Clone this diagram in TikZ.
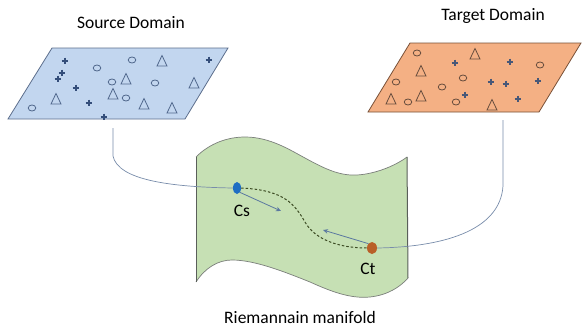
\documentclass[tikz,border=0pt]{standalone}
\usepackage{fontspec}
\setmainfont{Carlito}
\usetikzlibrary{arrows.meta,shapes.geometric}

\definecolor{srcfill}{RGB}{194,214,239}
\definecolor{srcedge}{RGB}{92,110,140}
\definecolor{srcmark}{RGB}{52,78,122}
\definecolor{tgtfill}{RGB}{244,176,132}
\definecolor{tgtedge}{RGB}{120,80,55}
\definecolor{tgtshape}{RGB}{105,78,62}
\definecolor{tgtplus}{RGB}{72,88,120}
\definecolor{manfill}{RGB}{198,224,180}
\definecolor{manedge}{RGB}{90,95,90}
\definecolor{linkcol}{RGB}{120,140,170}
\definecolor{pathcol}{RGB}{60,75,35}
\definecolor{arrowcol}{RGB}{90,120,160}
\definecolor{csdot}{RGB}{30,110,195}
\definecolor{ctdot}{RGB}{185,95,40}

\tikzset{
  pics/tri/.style={code={\draw[line width=0.8pt, line join=miter] (-5,5) -- (5,5) -- (0,-5.5) -- cycle;}},
  pics/ring/.style={code={\draw[line width=0.8pt] (0,0) ellipse [x radius=3.8, y radius=3];}},
  pics/plusmark/.style={code={\draw[line width=1.2pt] (-3.4,0) -- (3.4,0) (0,-3.4) -- (0,3.4);}},
  title/.style={font=\fontsize{17.5}{20}\selectfont, text=black, inner sep=0pt},
  centre/.style={ellipse, draw=none, inner sep=0pt},
  link/.style={draw=linkcol, line width=0.7pt},
  move/.style={draw=arrowcol, line width=0.8pt, -{Stealth[length=5pt,width=4.5pt]}},
}

\begin{document}
\begin{tikzpicture}[x=1pt, y=-1pt]
\useasboundingbox (0,0) rectangle (582,332);

% ---------- source domain ----------
\node[title] (srctitle) at (131,23) {Source Domain};
\filldraw[fill=srcfill, draw=srcedge, line width=0.8pt]
  (52,48) -- (228,48) -- (185,119) -- (8,119) -- cycle;
\begin{scope}[srcmark]
  \foreach \p in {(65,61),(62,73),(58,79),(76,88),(89,103),(104,117),(209,60)}
    \pic at \p {plusmark};
\end{scope}
\begin{scope}[draw=srcmark!85]
  \foreach \p in {(97,68),(132,60),(112,82),(155,83),(126,98),(32,108)}
    \pic at \p {ring};
  \foreach \p in {(162,61),(126,79),(113,94),(56,99),(194,83),(144,104),(172,108)}
    \pic at \p {tri};
\end{scope}

% ---------- target domain ----------
\node[title] (tgttitle) at (493,16) {Target Domain};
\filldraw[fill=tgtfill, draw=tgtedge, line width=0.8pt]
  (410,43) -- (581,43) -- (539,112) -- (368,112) -- cycle;
\begin{scope}[tgtplus]
  \foreach \p in {(455,63),(510,62),(491,82),(506,84),(538,81),(465,95),(518,99)}
    \pic at \p {plusmark};
\end{scope}
\begin{scope}[draw=tgtshape]
  \foreach \p in {(417,53),(396,82),(463,78),(442,87),(540,65),(408,102),(456,102)}
    \pic at \p {ring};
  \foreach \p in {(475,54),(421,71),(421,96),(391,99),(492,105)}
    \pic at \p {tri};
\end{scope}

% ---------- manifold sheet ----------
\fill[manfill]
  (196,157) .. controls (210,143) and (228,137) .. (245,137)
            .. controls (270,137) and (290,150) .. (305,158)
            .. controls (325,169) and (340,176) .. (357,175)
            .. controls (375,174) and (395,166) .. (407,157)
  -- (408,278)
            .. controls (400,287) and (388,295) .. (370,297)
            .. controls (350,299) and (330,291) .. (310,282)
            .. controls (285,272) and (255,260) .. (232,260)
            .. controls (218,260) and (205,268) .. (196,282)
  -- cycle;
\draw[manedge!80, line width=0.7pt]
  (196,157) .. controls (210,143) and (228,137) .. (245,137)
            .. controls (270,137) and (290,150) .. (305,158)
            .. controls (325,169) and (340,176) .. (357,175)
            .. controls (375,174) and (395,166) .. (407,157);
\draw[manedge!80, line width=0.7pt]
  (408,278) .. controls (400,287) and (388,295) .. (370,297)
            .. controls (350,299) and (330,291) .. (310,282)
            .. controls (285,272) and (255,260) .. (232,260)
            .. controls (218,260) and (205,268) .. (196,282);
\draw[manedge, line width=1pt] (196,157) -- (196,282);
\draw[manedge, line width=1pt] (407,157) -- (408,278);
\node[title] (mantitle) at (300,317) {Riemannain manifold};

% ---------- centres on the manifold ----------
\node[centre, fill=csdot, minimum width=8pt, minimum height=12pt] (cs) at (237,188) {};
\node[centre, fill=ctdot, minimum width=10pt, minimum height=12pt] (ct) at (372,248) {};
\node[title] (cslabel) at (242,211) {Cs};
\node[title] (ctlabel) at (368,269) {Ct};

% geodesic between the two centres
\draw[pathcol, line width=1pt, dash pattern=on 2.5pt off 2pt]
  (cs.east) .. controls (285,190) and (295,205) .. (305,222)
            .. controls (315,240) and (340,248) .. (ct.west);

% movement of the centres along the manifold
\coordinate (csgoal) at (281,211);
\coordinate (ctgoal) at (323,230);
\draw[move] (cs.south east) -- (csgoal);
\draw[move] (ct.north west) -- (ctgoal);

% ---------- links from the domains ----------
\coordinate (srcfoot) at (113,128);
\coordinate (tgtfoot) at (503,120);
\draw[link] (srcfoot) -- (113,156) .. controls (118,180) and (170,187) .. (cs.west);
\draw[link] (tgtfoot) -- (503,186) .. controls (500,232) and (440,247) .. (ct.east);

\end{tikzpicture}
\end{document}
